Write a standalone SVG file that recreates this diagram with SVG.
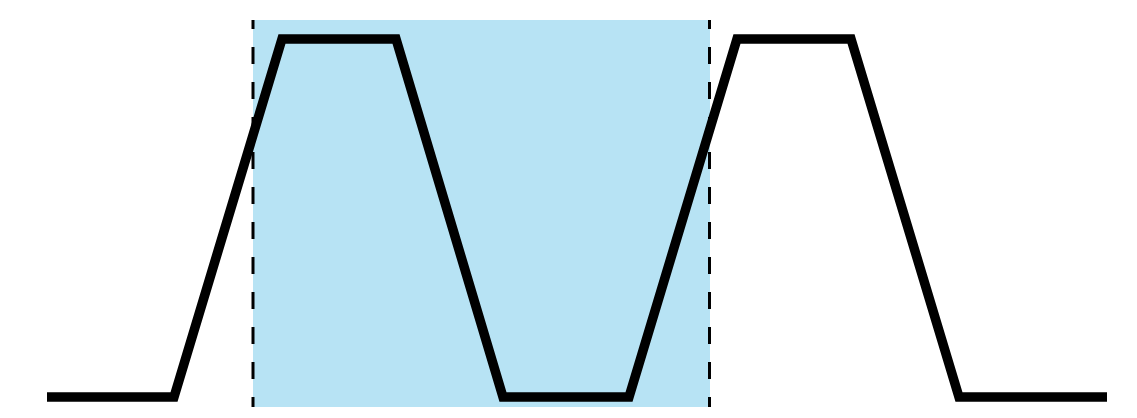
<svg xmlns="http://www.w3.org/2000/svg" width="1137" height="418" viewBox="0 0 1137 418">
  <style>
    .band { fill: #b7e3f4; }
    .guide { stroke: #000; stroke-width: 3; stroke-dasharray: 17 18; stroke-dashoffset: 8; fill: none; }
    .wave { stroke: #000; stroke-width: 9.5; fill: none; stroke-linejoin: miter; stroke-linecap: butt; }
  </style>
  <g id="band">
    <rect class="band" x="253" y="20" width="457" height="387"/>
  </g>
  <g id="guides">
    <line class="guide" x1="253" y1="20" x2="253" y2="407"/>
    <line class="guide" x1="709.5" y1="20" x2="709.5" y2="407"/>
  </g>
  <g id="waveform">
    <polyline class="wave" points="47,397 174,397 282,39 396,39 503,397 629,397 737,39 851,39 959,397 1107,397"/>
  </g>
</svg>
